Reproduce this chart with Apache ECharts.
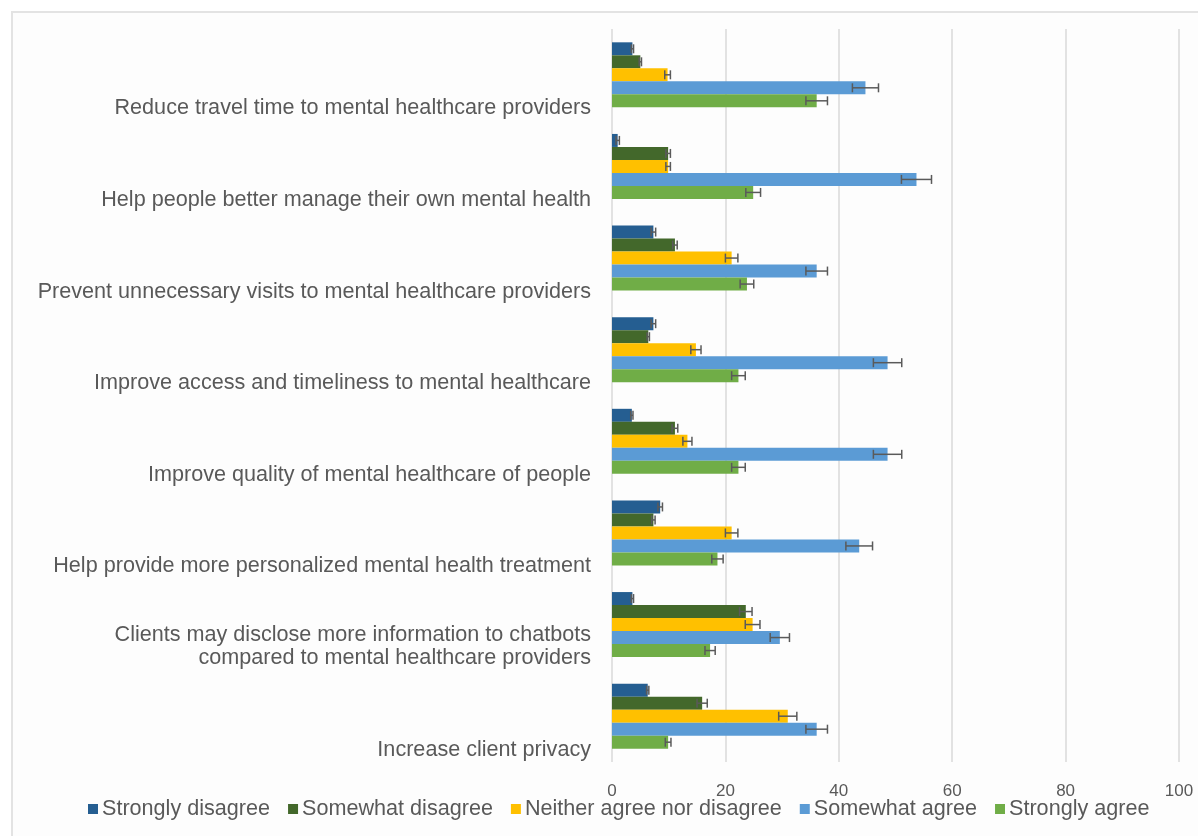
<!DOCTYPE html>
<html>
<head>
<meta charset="utf-8">
<script src="https://cdn.jsdelivr.net/npm/echarts@6/dist/echarts.min.js"></script>
<style>
html,body{margin:0;padding:0;background:#ffffff;}
#frame{position:absolute;left:11px;top:11px;width:1200px;height:840px;border-left:2px solid #E3E3E3;border-top:2px solid #E3E3E3;background:#FDFDFD;}
#chart{position:absolute;left:0;top:0;width:1198px;height:836px;}
</style>
</head>
<body>
<div id="frame"></div>
<div id="chart"></div>
<script>
const categories = [
  "Reduce travel time to mental healthcare providers",
  "Help people better manage their own mental health",
  "Prevent unnecessary visits to mental healthcare providers",
  "Improve access and timeliness to mental healthcare",
  "Improve quality of mental healthcare of people",
  "Help provide more personalized mental health treatment",
  "Clients may disclose more information to chatbots\ncompared to mental healthcare providers",
  "Increase client privacy"
];
const seriesNames = ["Strongly disagree", "Somewhat disagree", "Neither agree nor disagree", "Somewhat agree", "Strongly agree"];

const stronglyDisagree = [3.6, 1.0, 7.3, 7.3, 3.5, 8.5, 3.6, 6.3];
const somewhatDisagree = [5.0, 9.9, 11.1, 6.4, 11.1, 7.3, 23.6, 15.9];
const neither          = [9.8, 9.9, 21.1, 14.8, 13.3, 21.1, 24.8, 31.0];
const somewhatAgree    = [44.7, 53.7, 36.1, 48.6, 48.6, 43.6, 29.6, 36.1];
const stronglyAgree    = [36.1, 24.9, 23.8, 22.3, 22.3, 18.6, 17.3, 9.9];

const errStronglyDisagree = [0.2, 0.3, 0.4, 0.4, 0.2, 0.4, 0.2, 0.2];
const errSomewhatDisagree = [0.2, 0.4, 0.4, 0.2, 0.5, 0.3, 1.1, 0.9];
const errNeither          = [0.5, 0.4, 1.1, 0.9, 0.8, 1.1, 1.3, 1.6];
const errSomewhatAgree    = [2.3, 2.65, 1.9, 2.5, 2.5, 2.35, 1.7, 1.9];
const errStronglyAgree    = [1.9, 1.3, 1.2, 1.2, 1.2, 1.0, 0.9, 0.5];

const xTicks = [0, 20, 40, 60, 80, 100];

const values = [stronglyDisagree, somewhatDisagree, neither, somewhatAgree, stronglyAgree];
const errors = [errStronglyDisagree, errSomewhatDisagree, errNeither, errSomewhatAgree, errStronglyAgree];
const colors = ["#255E91", "#43682B", "#FFC000", "#5B9BD5", "#70AD47"];

const BAR_W = 13;
const FONT = "'Liberation Sans', Arial, sans-serif";
const TXT = "#595959";

const series = [];
values.forEach((vals, i) => {
  series.push({
    name: seriesNames[i],
    type: 'bar',
    data: vals,
    barWidth: BAR_W,
    barGap: '0%',
    itemStyle: { color: colors[i] },
    z: 2
  });
});
values.forEach((vals, i) => {
  series.push({
    name: seriesNames[i],
    type: 'custom',
    z: 5,
    silent: true,
    data: vals.map((v, k) => [k, v, errors[i][k]]),
    encode: { x: 1, y: 0 },
    renderItem: function (params, api) {
      const cat = api.value(0);
      const v = api.value(1);
      const e = api.value(2);
      const pLo = api.coord([v - e, cat]);
      const pHi = api.coord([v + e, cat]);
      const y = pLo[1] + (i - 2) * BAR_W;
      const cap = 4.5;
      const st = { stroke: '#5A5A5A', lineWidth: 1.5, fill: null };
      return {
        type: 'group',
        children: [
          { type: 'line', shape: { x1: pLo[0], y1: y, x2: pHi[0], y2: y }, style: st },
          { type: 'line', shape: { x1: pLo[0], y1: y - cap, x2: pLo[0], y2: y + cap }, style: st },
          { type: 'line', shape: { x1: pHi[0], y1: y - cap, x2: pHi[0], y2: y + cap }, style: st }
        ]
      };
    }
  });
});

const chart = echarts.init(document.getElementById('chart'), null, { renderer: 'canvas' });
chart.setOption({
  animation: false,
  backgroundColor: 'transparent',
  textStyle: { fontFamily: FONT },
  grid: { left: 612, right: 19, top: 29, bottom: 74, containLabel: false },
  legend: {
    data: seriesNames,
    bottom: 11,
    left: 83,
    icon: 'rect',
    itemWidth: 10,
    itemHeight: 10,
    itemGap: 18,
    textStyle: { fontSize: 21.6, color: TXT, fontFamily: FONT, padding: [0, 0, 0, -1] }
  },
  xAxis: {
    type: 'value',
    min: xTicks[0],
    max: xTicks[xTicks.length - 1],
    interval: xTicks[1] - xTicks[0],
    axisLine: { show: false },
    axisTick: { show: false },
    splitLine: { lineStyle: { color: '#D9D9D9', width: 1.5 } },
    axisLabel: { fontSize: 17, color: TXT, fontFamily: FONT, margin: 21 }
  },
  yAxis: {
    type: 'category',
    inverse: true,
    data: categories,
    axisLine: { show: false },
    axisTick: { show: false },
    axisLabel: {
      fontSize: 21.6,
      color: TXT,
      fontFamily: FONT,
      margin: 21,
      lineHeight: 23,
      verticalAlign: 'bottom',
      padding: [0, 0, -45, 0]
    }
  },
  series: series
});
</script>
</body>
</html>
